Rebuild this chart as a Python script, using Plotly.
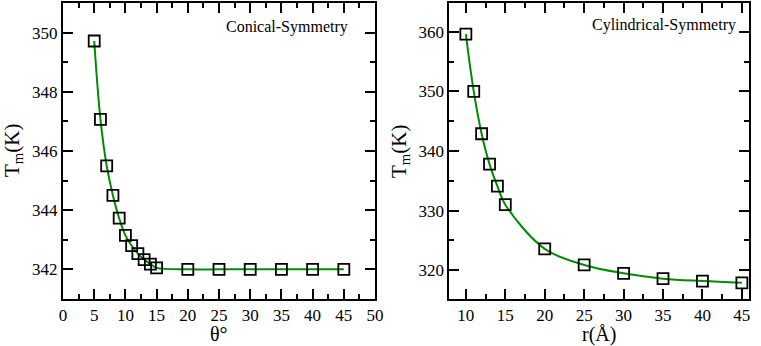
import plotly.graph_objects as go
from plotly.subplots import make_subplots

# Conical symmetry: melting temperature vs cone angle
theta = [5, 6, 7, 8, 9, 10, 11, 12, 13, 14, 15, 20, 25, 30, 35, 40, 45]
tm_conical = [349.72, 347.07, 345.5, 344.5, 343.73, 343.15, 342.8, 342.53,
              342.33, 342.18, 342.05, 342.0, 342.0, 342.0, 342.0, 342.0, 342.0]

# Cylindrical symmetry: melting temperature vs radius
radius = [10, 11, 12, 13, 14, 15, 20, 25, 30, 35, 40, 45]
tm_cylindrical = [359.6, 350.0, 342.9, 337.8, 334.1, 331.0, 323.6, 320.9,
                  319.5, 318.6, 318.2, 317.9]

font_family = "Liberation Serif, Times New Roman, serif"
green = "rgb(0,140,0)"

fig = make_subplots(rows=1, cols=2)

for col, (xs, ys) in enumerate([(theta, tm_conical), (radius, tm_cylindrical)], start=1):
    fig.add_trace(go.Scatter(
        x=xs, y=ys, mode="lines", line=dict(color=green, width=2, shape="spline"),
        showlegend=False, hoverinfo="skip"), row=1, col=col)
    fig.add_trace(go.Scatter(
        x=xs, y=ys, mode="markers",
        marker=dict(symbol="square-open", size=11, color="black", line=dict(width=1.8)),
        showlegend=False), row=1, col=col)

axis_style = dict(showline=True, linecolor="black", linewidth=2, mirror="allticks",
                  ticks="inside", ticklen=10, tickwidth=2, tickcolor="black",
                  showgrid=False, zeroline=False, automargin=False,
                  tickfont=dict(family=font_family, size=17, color="black"))
minor_style = dict(ticks="inside", ticklen=5, tickwidth=2, tickcolor="black")

fig.update_xaxes(axis_style)
fig.update_yaxes(axis_style)

fig.update_xaxes(range=[0, 50], dtick=5, domain=[0.0828, 0.4928],
                 minor=dict(dtick=2.5, **minor_style), row=1, col=1)
fig.update_yaxes(range=[341, 351], dtick=2, domain=[0.136, 0.991],
                 minor=dict(dtick=1, **minor_style), row=1, col=1)
fig.update_xaxes(range=[7.9, 45.9], tick0=10, dtick=5, domain=[0.5904, 0.9842],
                 minor=dict(dtick=2.5, **minor_style), row=1, col=2)
fig.update_yaxes(range=[315.2, 364.8], dtick=10, domain=[0.136, 0.991],
                 minor=dict(dtick=5, **minor_style), row=1, col=2)

# axis titles placed by hand (standoff is ignored without automargin)
title_font = dict(family=font_family, size=20, color="black")
fig.add_annotation(text="θ°", xref="x domain", yref="paper", x=0.5, y=0.034,
                   xanchor="center", yanchor="middle", showarrow=False, font=title_font)
fig.add_annotation(text="r(Å)", xref="x2 domain", yref="paper", x=0.5, y=0.032,
                   xanchor="center", yanchor="middle", showarrow=False, font=title_font)
fig.add_annotation(text="T<sub>m</sub>(K)", xref="paper", yref="paper", x=0.0171, y=0.5636,
                   xanchor="center", yanchor="middle", textangle=-90, showarrow=False,
                   font=dict(family=font_family, size=21, color="black"))
fig.add_annotation(text="T<sub>m</sub>(K)", xref="paper", yref="paper", x=0.5256, y=0.5636,
                   xanchor="center", yanchor="middle", textangle=-90, showarrow=False,
                   font=dict(family=font_family, size=21, color="black"))

fig.add_annotation(text="Conical-Symmetry", xref="x domain", yref="y domain",
                   x=0.92, y=0.919, xanchor="right", yanchor="middle", showarrow=False,
                   font=dict(family=font_family, size=16, color="black"))
fig.add_annotation(text="Cylindrical-Symmetry", xref="x2 domain", yref="y2 domain",
                   x=0.963, y=0.926, xanchor="right", yanchor="middle", showarrow=False,
                   font=dict(family=font_family, size=16, color="black"))

fig.update_layout(width=761, height=346, margin=dict(l=0, r=0, t=0, b=0),
                  plot_bgcolor="white", paper_bgcolor="white",
                  font=dict(family=font_family, color="black"))

# the page's default body margin would push the figure off the 761x346 window
fig.write_html("out.html", config={"displayModeBar": False},
               post_script="document.body.style.margin='0px';")
